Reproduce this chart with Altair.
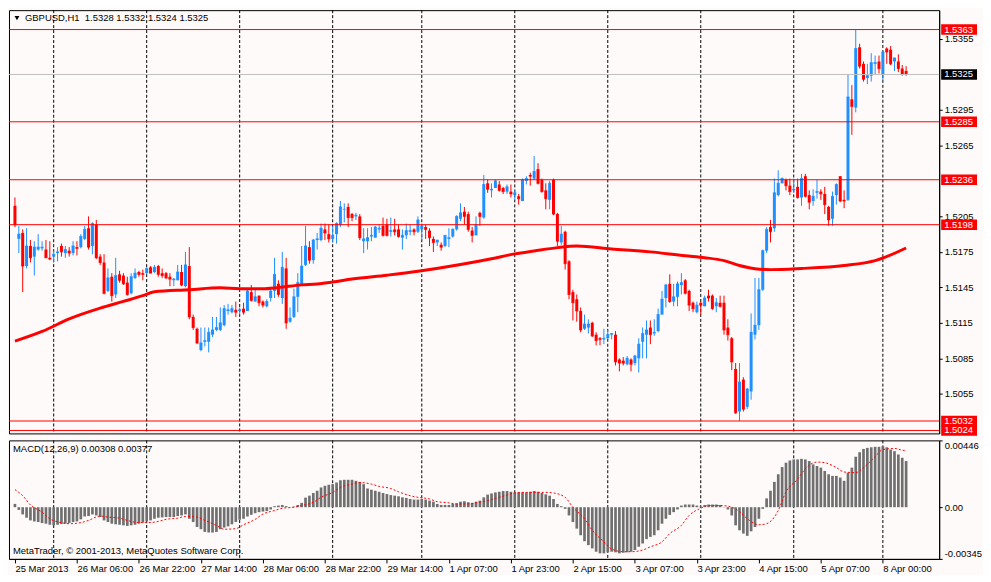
import altair as alt
import pandas as pd

# ---------------- data ----------------
symbol = "GBPUSD,H1"

opens = [
 1.5214,1.5186,1.5191,1.5163,1.5180,1.5171,1.5177,1.5178,1.5177,1.5170,
 1.5171,1.5174,1.5180,1.5174,1.5176,1.5174,1.5179,1.5179,1.5186,1.5195,
 1.5180,1.5198,1.5171,1.5166,1.5142,1.5154,1.5139,1.5156,1.5155,1.5149,
 1.5140,1.5153,1.5158,1.5157,1.5157,1.5162,1.5158,1.5163,1.5157,1.5157,
 1.5154,1.5151,1.5151,1.5158,1.5146,1.5163,1.5120,1.5110,1.5092,1.5099,
 1.5099,1.5105,1.5109,1.5109,1.5113,1.5125,1.5124,1.5126,1.5125,1.5127,
 1.5125,1.5141,1.5133,1.5138,1.5133,1.5129,1.5136,1.5142,1.5148,1.5136,
 1.5161,1.5116,1.5120,1.5137,1.5147,1.5164,1.5179,1.5168,1.5185,1.5185,
 1.5194,1.5190,1.5186,1.5190,1.5198,1.5211,1.5213,1.5207,1.5205,1.5205,
 1.5184,1.5184,1.5188,1.5187,1.5194,1.5197,1.5198,1.5192,1.5194,1.5194,
 1.5187,1.5189,1.5192,1.5194,1.5192,1.5194,1.5196,1.5193,1.5186,1.5183,
 1.5181,1.5180,1.5186,1.5188,1.5194,1.5203,1.5209,1.5207,1.5193,1.5189,
 1.5208,1.5204,1.5233,1.5227,1.5229,1.5232,1.5229,1.5226,1.5226,1.5223,
 1.5222,1.5218,1.5235,1.5240,1.5237,1.5245,1.5236,1.5227,1.5219,1.5236,
 1.5207,1.5183,1.5192,1.5167,1.5141,1.5135,1.5125,1.5110,1.5111,1.5115,
 1.5105,1.5102,1.5101,1.5102,1.5105,1.5105,1.5084,1.5083,1.5080,1.5084,
 1.5081,1.5085,1.5099,1.5105,1.5111,1.5106,1.5108,1.5122,1.5136,1.5148,
 1.5133,1.5137,1.5147,1.5151,1.5142,1.5132,1.5124,1.5132,1.5129,1.5138,
 1.5138,1.5129,1.5132,1.5132,1.5111,1.5102,1.5076,1.5040,1.5067,1.5044,
 1.5057,1.5105,1.5113,1.5143,1.5176,1.5196,1.5195,1.5223,1.5233,1.5236,
 1.5231,1.5227,1.5230,1.5221,1.5239,1.5223,1.5218,1.5225,1.5226,1.5224,
 1.5213,1.5203,1.5223,1.5239,1.5219,1.5219,1.5304,1.5297,1.5348,1.5334,
 1.5322,1.5324,1.5334,1.5336,1.5325,1.5347,1.5346,1.5336,1.5336,1.5330,
 1.5328]

highs = [
 1.5221,1.5197,1.5194,1.5195,1.5185,1.5184,1.5190,1.5184,1.5185,1.5184,
 1.5176,1.5179,1.5182,1.5180,1.5179,1.5184,1.5184,1.5190,1.5197,1.5205,
 1.5200,1.5202,1.5173,1.5173,1.5161,1.5157,1.5170,1.5159,1.5157,1.5154,
 1.5157,1.5161,1.5159,1.5160,1.5162,1.5163,1.5164,1.5164,1.5161,1.5158,
 1.5157,1.5153,1.5164,1.5164,1.5175,1.5179,1.5122,1.5111,1.5111,1.5111,
 1.5111,1.5120,1.5120,1.5128,1.5130,1.5131,1.5130,1.5133,1.5128,1.5132,
 1.5143,1.5147,1.5144,1.5138,1.5134,1.5135,1.5144,1.5170,1.5151,1.5175,
 1.5170,1.5128,1.5144,1.5157,1.5180,1.5197,1.5184,1.5186,1.5191,1.5199,
 1.5199,1.5198,1.5197,1.5200,1.5218,1.5216,1.5216,1.5208,1.5208,1.5207,
 1.5195,1.5195,1.5196,1.5197,1.5198,1.5204,1.5203,1.5204,1.5203,1.5198,
 1.5194,1.5199,1.5198,1.5195,1.5205,1.5199,1.5198,1.5195,1.5188,1.5185,
 1.5183,1.5189,1.5195,1.5195,1.5206,1.5216,1.5213,1.5209,1.5196,1.5205,
 1.5209,1.5240,1.5236,1.5233,1.5236,1.5235,1.5230,1.5232,1.5232,1.5227,
 1.5224,1.5237,1.5239,1.5242,1.5256,1.5250,1.5237,1.5233,1.5235,1.5237,
 1.5208,1.5197,1.5193,1.5168,1.5143,1.5139,1.5128,1.5122,1.5118,1.5116,
 1.5107,1.5103,1.5110,1.5109,1.5106,1.5108,1.5085,1.5086,1.5087,1.5085,
 1.5088,1.5102,1.5111,1.5117,1.5117,1.5118,1.5127,1.5142,1.5148,1.5156,
 1.5148,1.5150,1.5157,1.5152,1.5143,1.5133,1.5133,1.5133,1.5138,1.5143,
 1.5139,1.5136,1.5138,1.5138,1.5118,1.5103,1.5081,1.5081,1.5069,1.5060,
 1.5123,1.5153,1.5153,1.5177,1.5196,1.5202,1.5237,1.5244,1.5238,1.5237,
 1.5237,1.5237,1.5237,1.5241,1.5241,1.5227,1.5228,1.5236,1.5228,1.5230,
 1.5214,1.5226,1.5233,1.5239,1.5227,1.5325,1.5316,1.5363,1.5351,1.5336,
 1.5334,1.5343,1.5341,1.5341,1.5345,1.5348,1.5349,1.5339,1.5342,1.5333,
 1.5332]

lows = [
 1.5196,1.5174,1.5141,1.5161,1.5166,1.5155,1.5176,1.5176,1.5170,1.5168,
 1.5166,1.5167,1.5171,1.5170,1.5171,1.5172,1.5172,1.5178,1.5185,1.5177,
 1.5173,1.5169,1.5164,1.5139,1.5141,1.5133,1.5136,1.5149,1.5147,1.5138,
 1.5139,1.5152,1.5154,1.5151,1.5156,1.5157,1.5157,1.5154,1.5153,1.5152,
 1.5146,1.5146,1.5151,1.5146,1.5145,1.5118,1.5109,1.5097,1.5091,1.5095,
 1.5090,1.5103,1.5108,1.5108,1.5112,1.5122,1.5123,1.5120,1.5122,1.5122,
 1.5125,1.5133,1.5133,1.5129,1.5128,1.5128,1.5133,1.5136,1.5137,1.5131,
 1.5110,1.5115,1.5119,1.5124,1.5147,1.5163,1.5165,1.5165,1.5177,1.5184,
 1.5185,1.5183,1.5183,1.5182,1.5196,1.5200,1.5196,1.5201,1.5202,1.5185,
 1.5174,1.5177,1.5184,1.5187,1.5191,1.5188,1.5188,1.5188,1.5189,1.5187,
 1.5177,1.5186,1.5189,1.5189,1.5191,1.5185,1.5186,1.5180,1.5175,1.5180,
 1.5176,1.5179,1.5179,1.5187,1.5193,1.5201,1.5198,1.5192,1.5183,1.5189,
 1.5197,1.5203,1.5225,1.5221,1.5229,1.5226,1.5224,1.5224,1.5221,1.5219,
 1.5215,1.5218,1.5232,1.5231,1.5236,1.5232,1.5225,1.5211,1.5211,1.5206,
 1.5180,1.5181,1.5160,1.5135,1.5117,1.5116,1.5107,1.5109,1.5106,1.5103,
 1.5096,1.5096,1.5097,1.5101,1.5101,1.5079,1.5074,1.5079,1.5079,1.5074,
 1.5079,1.5073,1.5085,1.5085,1.5097,1.5104,1.5107,1.5122,1.5128,1.5132,
 1.5129,1.5129,1.5139,1.5139,1.5125,1.5124,1.5123,1.5122,1.5129,1.5133,
 1.5126,1.5124,1.5128,1.5105,1.5100,1.5075,1.5038,1.5032,1.5040,1.5042,
 1.5050,1.5101,1.5109,1.5142,1.5174,1.5183,1.5192,1.5222,1.5233,1.5227,
 1.5223,1.5225,1.5220,1.5214,1.5221,1.5211,1.5214,1.5220,1.5219,1.5207,
 1.5197,1.5197,1.5215,1.5217,1.5212,1.5218,1.5274,1.5293,1.5330,1.5319,
 1.5317,1.5319,1.5325,1.5326,1.5320,1.5334,1.5333,1.5328,1.5327,1.5324,
 1.5324]

closes = [
 1.5198,1.5190,1.5163,1.5180,1.5170,1.5179,1.5179,1.5179,1.5170,1.5169,
 1.5173,1.5175,1.5175,1.5177,1.5174,1.5180,1.5178,1.5188,1.5194,1.5179,
 1.5199,1.5170,1.5166,1.5140,1.5153,1.5138,1.5155,1.5151,1.5148,1.5139,
 1.5154,1.5157,1.5156,1.5156,1.5161,1.5157,1.5162,1.5156,1.5155,1.5153,
 1.5152,1.5152,1.5158,1.5147,1.5164,1.5120,1.5111,1.5098,1.5098,1.5100,
 1.5107,1.5109,1.5111,1.5115,1.5127,1.5126,1.5127,1.5124,1.5126,1.5124,
 1.5142,1.5134,1.5137,1.5132,1.5130,1.5133,1.5142,1.5156,1.5139,1.5162,
 1.5115,1.5119,1.5137,1.5149,1.5163,1.5180,1.5168,1.5185,1.5186,1.5195,
 1.5191,1.5186,1.5189,1.5199,1.5213,1.5211,1.5204,1.5204,1.5206,1.5187,
 1.5186,1.5187,1.5189,1.5196,1.5195,1.5189,1.5189,1.5193,1.5192,1.5188,
 1.5189,1.5193,1.5193,1.5192,1.5202,1.5197,1.5194,1.5187,1.5183,1.5185,
 1.5179,1.5189,1.5187,1.5194,1.5205,1.5208,1.5205,1.5194,1.5189,1.5198,
 1.5205,1.5232,1.5228,1.5228,1.5235,1.5227,1.5226,1.5230,1.5224,1.5225,
 1.5220,1.5236,1.5237,1.5239,1.5243,1.5233,1.5226,1.5220,1.5233,1.5207,
 1.5184,1.5190,1.5165,1.5139,1.5132,1.5125,1.5109,1.5114,1.5114,1.5104,
 1.5100,1.5101,1.5102,1.5105,1.5106,1.5082,1.5081,1.5081,1.5085,1.5080,
 1.5087,1.5097,1.5106,1.5109,1.5105,1.5107,1.5122,1.5135,1.5147,1.5133,
 1.5137,1.5148,1.5149,1.5140,1.5130,1.5127,1.5130,1.5130,1.5136,1.5136,
 1.5127,1.5132,1.5129,1.5109,1.5105,1.5082,1.5039,1.5065,1.5042,1.5059,
 1.5107,1.5113,1.5143,1.5176,1.5194,1.5192,1.5225,1.5233,1.5237,1.5231,
 1.5226,1.5228,1.5221,1.5237,1.5222,1.5217,1.5222,1.5226,1.5224,1.5215,
 1.5202,1.5222,1.5232,1.5218,1.5218,1.5306,1.5298,1.5347,1.5332,1.5321,
 1.5324,1.5335,1.5335,1.5330,1.5344,1.5344,1.5334,1.5339,1.5330,1.5325,
 1.5325]

# moving average (thick red line), read at bar positions
ma_idx = [0, 7, 14, 22, 28, 33, 36, 45, 53, 58, 64, 68, 74, 78, 82, 87, 96, 104,
          115, 123, 129, 134, 140, 145, 154, 164, 173, 178, 183, 187, 191, 195,
          203, 214, 222, 230]
ma_val = [1.50995, 1.51077, 1.51183, 1.51274, 1.51331, 1.51380, 1.51413, 1.51430,
          1.51446, 1.51438, 1.51438, 1.51449, 1.51471, 1.51479, 1.51495, 1.51520,
          1.51553, 1.51586, 1.51643, 1.51692, 1.51733, 1.51758, 1.51786, 1.51799,
          1.51775, 1.51750, 1.51717, 1.51701, 1.51676, 1.51635, 1.51608, 1.51600,
          1.51610, 1.51635, 1.51676, 1.51783]

# MACD main (histogram), one per bar
macd_hist = [
 0.00022,-0.00018,-0.00048,-0.00070,-0.00088,-0.00095,-0.00099,-0.00106,-0.00110,-0.00117,
 -0.00121,-0.00117,-0.00112,-0.00110,-0.00106,-0.00099,-0.00095,-0.00081,-0.00062,-0.00059,
 -0.00048,-0.00055,-0.00066,-0.00088,-0.00099,-0.00110,-0.00114,-0.00117,-0.00121,-0.00125,
 -0.00121,-0.00117,-0.00110,-0.00103,-0.00095,-0.00088,-0.00077,-0.00070,-0.00068,-0.00066,
 -0.00066,-0.00066,-0.00059,-0.00055,-0.00048,-0.00077,-0.00099,-0.00132,-0.00147,-0.00165,
 -0.00169,-0.00169,-0.00165,-0.00147,-0.00136,-0.00128,-0.00114,-0.00099,-0.00084,-0.00077,
 -0.00062,-0.00051,-0.00040,-0.00033,-0.00029,-0.00026,-0.00015,0.00007,0.00011,0.00015,
 0.00007,-0.00002,0.00004,0.00015,0.00029,0.00064,0.00077,0.00095,0.00110,0.00132,
 0.00143,0.00150,0.00154,0.00165,0.00180,0.00183,0.00183,0.00183,0.00176,0.00169,
 0.00154,0.00125,0.00117,0.00110,0.00103,0.00095,0.00088,0.00081,0.00077,0.00073,
 0.00066,0.00062,0.00055,0.00051,0.00051,0.00055,0.00051,0.00044,0.00037,0.00022,
 0.00015,0.00015,0.00015,0.00022,0.00026,0.00037,0.00040,0.00033,0.00029,0.00037,
 0.00044,0.00066,0.00084,0.00092,0.00099,0.00103,0.00108,0.00108,0.00103,0.00099,
 0.00099,0.00099,0.00099,0.00103,0.00108,0.00103,0.00095,0.00086,0.00077,0.00055,
 0.00022,0.00007,-0.00011,-0.00055,-0.00099,-0.00143,-0.00187,-0.00227,-0.00253,-0.00275,
 -0.00297,-0.00308,-0.00308,-0.00301,-0.00297,-0.00301,-0.00308,-0.00304,-0.00301,-0.00297,
 -0.00286,-0.00264,-0.00242,-0.00213,-0.00198,-0.00187,-0.00154,-0.00110,-0.00077,-0.00051,
 -0.00033,-0.00015,0.00011,0.00018,0.00018,0.00018,0.00011,0.00004,0.00015,0.00018,
 0.00018,0.00018,0.00015,0.00002,-0.00015,-0.00055,-0.00121,-0.00154,-0.00176,-0.00191,
 -0.00161,-0.00132,-0.00077,-0.00011,0.00059,0.00110,0.00169,0.00220,0.00268,0.00297,
 0.00312,0.00319,0.00319,0.00323,0.00319,0.00308,0.00286,0.00275,0.00264,0.00242,
 0.00220,0.00209,0.00209,0.00198,0.00176,0.00231,0.00264,0.00337,0.00367,0.00389,
 0.00396,0.00400,0.00403,0.00403,0.00407,0.00400,0.00385,0.00374,0.00352,0.00330,
 0.00308]

# MACD signal (dotted red line), read at bar positions
sig_idx = [0, 2, 4, 7, 9, 12, 14, 17, 19, 22, 24, 27, 29, 32, 34, 37, 39, 42, 44, 47,
           49, 52, 54, 57, 59, 62, 64, 67, 69, 72, 74, 77, 79, 82, 84, 87, 89, 92, 94, 97,
           99, 102, 104, 107, 109, 112, 114, 117, 119, 122, 124, 127, 129, 132, 134, 137,
           139, 142, 144, 147, 149, 152, 154, 157, 159, 162, 164, 167, 169, 172, 174, 177,
           179, 182, 184, 187, 189, 192, 194, 197, 199, 202, 204, 207, 209, 212, 214, 217,
           219, 222, 224, 227, 229, 230]
sig_val = [0.00117, 0.00077, 0.00015, -0.00033, -0.00077, -0.00103, -0.00110, -0.00103,
           -0.00088, -0.00059, -0.00066, -0.00073, -0.00088, -0.00103, -0.00103, -0.00095,
           -0.00081, -0.00073, -0.00062, -0.00066, -0.00088, -0.00121, -0.00147, -0.00143,
           -0.00117, -0.00081, -0.00046, -0.00022, -0.00007, 0.00000, 0.00011, 0.00033,
           0.00066, 0.00099, 0.00132, 0.00154, 0.00165, 0.00154, 0.00139, 0.00125,
           0.00103, 0.00077, 0.00066, 0.00055, 0.00037, 0.00029, 0.00022, 0.00022,
           0.00029, 0.00044, 0.00059, 0.00081, 0.00095, 0.00099, 0.00099, 0.00099,
           0.00095, 0.00066, 0.00000, -0.00077, -0.00154, -0.00231, -0.00279, -0.00297,
           -0.00297, -0.00286, -0.00264, -0.00231, -0.00176, -0.00121, -0.00055, -0.00007,
           0.00011, 0.00011, 0.00007, -0.00029, -0.00077, -0.00117, -0.00110, -0.00022,
           0.00103, 0.00187, 0.00257, 0.00301, 0.00297, 0.00264, 0.00235, 0.00231,
           0.00264, 0.00337, 0.00385, 0.00392, 0.00381, 0.00377]

day_start_idx = [10, 34, 58, 82, 105, 129, 153, 177, 201, 224]
time_tick_idx = [0, 16, 32, 48, 64, 80, 96, 112, 128, 144, 160, 176, 192, 208, 224]
time_tick_labels = ["25 Mar 2013", "26 Mar 06:00", "26 Mar 22:00", "27 Mar 14:00",
                    "28 Mar 06:00", "28 Mar 22:00", "29 Mar 14:00", "1 Apr 07:00",
                    "1 Apr 23:00", "2 Apr 15:00", "3 Apr 07:00", "3 Apr 23:00",
                    "4 Apr 15:00", "5 Apr 07:00", "8 Apr 00:00"]
price_ticks = [1.5355, 1.5295, 1.5265, 1.5205, 1.5175, 1.5145, 1.5115, 1.5085, 1.5055]
levels = [1.5363, 1.5285, 1.5236, 1.5198, 1.5032, 1.5024]
bid = 1.5325
macd_ticks = [0.00446, 0.0, -0.00345]
macd_tick_labels = ["0.00446", "0.00", "-0.00345"]
price_range = [1.50215, 1.53794]
macd_range = [-0.00345, 0.00446]
bar_range = [-0.25, 237.25]

n = len(opens)
assert len(highs) == n and len(lows) == n and len(closes) == n and len(macd_hist) == n

# ---------------- styling ----------------
W, H1, H2 = 934, 425, 119
FONT = "Liberation Sans"
FS = 9.5
UP, DOWN = "#1E90FF", "#FF0000"
BG = "#FFFAFA"

candles = pd.DataFrame({"i": list(range(n)), "open": opens, "high": highs,
                        "low": lows, "close": closes})
candles["dir"] = ["up" if c >= o else "down" for o, c in zip(opens, closes)]
candles["top"] = candles[["open", "close"]].max(axis=1)
candles["bot"] = candles[["open", "close"]].min(axis=1)

xs = alt.Scale(domain=bar_range, nice=False, zero=False)
ps = alt.Scale(domain=price_range, nice=False, zero=False)
ms = alt.Scale(domain=macd_range, nice=False, zero=False)

price_axis = alt.Axis(orient="right", values=price_ticks, format=".4f", title=None,
                      grid=False, tickSize=3, labelPadding=2, labelFlush=False)

def chain(vals, labs):
    e = ""
    for v, l in zip(vals, labs):
        e += f"abs(datum.value - ({v})) < 1e-7 ? '{l}' : "
    return e + "''"

macd_axis = alt.Axis(orient="right", values=macd_ticks, title=None, grid=False,
                     tickSize=3, labelPadding=2, labelFlush=True,
                     labelExpr=chain(macd_ticks, macd_tick_labels))
time_axis = alt.Axis(values=time_tick_idx, title=None, grid=False, tickSize=4,
                     labelAlign="left", labelPadding=1, labelFlush=False,
                     labelOverlap=False, labelExpr=chain(time_tick_idx, time_tick_labels))

col = alt.Color("dir:N", scale=alt.Scale(domain=["up", "down"], range=[UP, DOWN]),
                legend=None)

def PX(f="i"):
    return alt.X(f"{f}:Q", scale=xs, axis=None)

def PY(f):
    return alt.Y(f"{f}:Q", scale=ps, axis=price_axis)

days = pd.DataFrame({"i": day_start_idx})
day_main = alt.Chart(days).mark_rule(color="black", strokeWidth=1, strokeDash=[3, 2]).encode(x=PX())

base = alt.Chart(candles)
wicks = base.mark_rule(strokeWidth=1).encode(x=PX(), y=PY("low"), y2="high", color=col)
bodies = base.mark_bar(size=3).encode(x=PX(), y=PY("bot"), y2="top", color=col)
ticks = base.mark_tick(orient="horizontal", thickness=1, size=3).encode(
    x=PX(), y=PY("close"), color=col)

ma_df = pd.DataFrame({"i": ma_idx, "v": ma_val})
ma = alt.Chart(ma_df).mark_line(color="#FF0000", strokeWidth=3, interpolate="monotone").encode(
    x=PX(), y=PY("v"))

lev_df = pd.DataFrame({"p": levels, "lab": [f"{v:.4f}" for v in levels]})
bid_df = pd.DataFrame({"p": [bid], "lab": [f"{bid:.4f}"]})

lev_lines = alt.Chart(lev_df).mark_rule(color="#FF0000", strokeWidth=1).encode(y=PY("p"))
bid_line = alt.Chart(bid_df).mark_rule(color="#C0C0C0", strokeWidth=1).encode(y=PY("p"))

def boxes(df, color):
    box = alt.Chart(df).mark_rule(color=color, strokeWidth=10.5).encode(
        x=alt.value(W + 2), x2=alt.value(W + 38), y=PY("p"))
    txt = alt.Chart(df).mark_text(align="left", baseline="middle", color="white",
                                  font=FONT, fontSize=FS).encode(
        x=alt.value(W + 5), y=PY("p"), text="lab:N")
    return box + txt

header = f"{symbol}\u00a0 {opens[-1]:.4f} {highs[-1]:.4f} {lows[-1]:.4f} {closes[-1]:.4f}"
one = pd.DataFrame({"t": [header]})
tri = alt.Chart(one).mark_point(shape="triangle-down", filled=True, color="black",
                                size=24, opacity=1).encode(x=alt.value(8), y=alt.value(8))
title_txt = alt.Chart(one).mark_text(align="left", baseline="middle", font=FONT,
                                     fontSize=FS, color="black").encode(
    x=alt.value(16), y=alt.value(8), text="t:N")

main = alt.layer(day_main, wicks, bodies, ticks, ma, lev_lines, bid_line,
                 boxes(lev_df, "#FF0000"), boxes(bid_df, "black"),
                 tri, title_txt).properties(width=W, height=H1)

# MACD pane
macd_df = pd.DataFrame({"i": list(range(n)), "m": macd_hist})
sig_df = pd.DataFrame({"i": sig_idx, "s": sig_val})

day_macd = alt.Chart(days).mark_rule(color="black", strokeWidth=1, strokeDash=[3, 2]).encode(
    x=alt.X("i:Q", scale=xs, axis=time_axis))
hist = alt.Chart(macd_df).mark_bar(size=2.7, color="#707070").encode(
    x=alt.X("i:Q", scale=xs, axis=time_axis),
    y=alt.Y("m:Q", scale=ms, axis=macd_axis), y2=alt.datum(0))
sig = alt.Chart(sig_df).mark_line(color="#FF0000", strokeWidth=1, strokeDash=[2, 2],
                                  interpolate="monotone").encode(
    x=alt.X("i:Q", scale=xs, axis=time_axis),
    y=alt.Y("s:Q", scale=ms, axis=macd_axis))

macd_title = f"MACD(12,26,9) {macd_hist[-1]:.5f} {sig_val[-1]:.5f}"
mt = alt.Chart(pd.DataFrame({"t": [macd_title]})).mark_text(
    align="left", baseline="middle", font=FONT, fontSize=FS, color="black").encode(
    x=alt.value(4), y=alt.value(9), text="t:N")
copy = alt.Chart(pd.DataFrame({"t": ["MetaTrader, \u00a9 2001-2013, MetaQuotes Software Corp."]})).mark_text(
    align="left", baseline="middle", font=FONT, fontSize=FS, color="black").encode(
    x=alt.value(4), y=alt.value(H2 - 8), text="t:N")

macd = alt.layer(day_macd, hist, sig, mt, copy).properties(width=W, height=H2)

chart = alt.vconcat(main, macd, spacing=3).properties(
    padding=0, background=BG
).configure_view(
    stroke="black", strokeWidth=1, fill=BG
).configure_axis(
    labelFont=FONT, labelFontSize=FS, labelColor="black", domainColor="black",
    tickColor="black", domainWidth=1, tickWidth=1
).configure_text(font=FONT, fontSize=FS)

chart.save("out.html", embed_options={"renderer": "svg", "actions": False})
